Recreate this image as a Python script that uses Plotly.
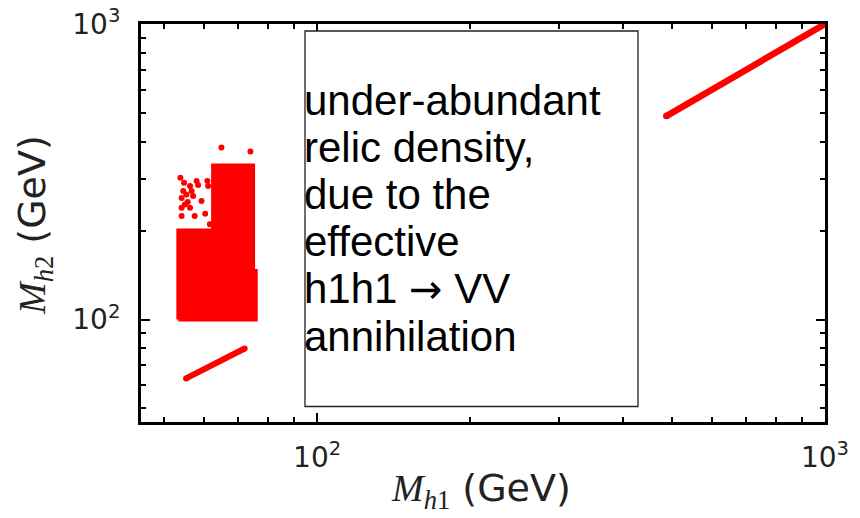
import math
import plotly.graph_objects as go

# ---------------- data ----------------
# dense scan region (outline of the filled block of points), GeV
block_mh1 = [53.3, 53.3, 62.4, 62.4, 74.8, 74.8, 75.7, 75.7, 53.3]
block_mh2 = [100, 200, 200, 332, 332, 146, 146, 100, 100]

# sparse points above the dense block
sparse_mh1 = [53.8, 54.7, 56.2, 57.9, 58.3, 60.8, 61.0, 54.5, 56.6, 59.2,
              54.1, 54.9, 56.2, 54.1, 57.4, 54.1, 61.5, 63.8, 64.8, 73.9,
              55.3, 57.0, 55.6, 60.2]
sparse_mh2 = [302, 290, 283, 294, 285, 294, 283, 272, 272, 252,
              258, 245, 239, 239, 224, 224, 210, 322, 382, 370,
              265, 262, 250, 228]

# low-mass diagonal branch
low_mh1 = [55.2, 72.0]
low_mh2 = [63.2, 79.8]

# high-mass diagonal branch (M_h2 ~ M_h1)
high_mh1 = [487, 1000]
high_mh2 = [488, 1000]

# axes
axis_range = [45, 1000]
major_vals = [100, 1000]
major_text = ["10<sup>2</sup>", "10<sup>3</sup>"]
minor_vals = [50, 60, 70, 80, 90, 200, 300, 400, 500, 600, 700, 800, 900]

box_lines = ["under-abundant", "relic density,", "due to the",
             "effective",
             "h1h1 <span style='font-family:DejaVu Sans;font-size:40px'>\u2192</span> VV",
             "annihilation"]

RED = "#ff0000"

# ---------------- layout geometry (pixels) ----------------
W, H = 860, 518
L, R, T, B = 141, 35, 24, 96
PW, PH = W - L - R, H - T - B


def px2x(px):
    return (px - L) / PW


def py2y(py):
    return (H - B - py) / PH


fig = go.Figure()

fig.add_trace(go.Scatter(
    x=block_mh1, y=block_mh2, mode="lines", fill="toself",
    fillcolor=RED, line=dict(color=RED, width=4), hoverinfo="skip",
    showlegend=False))

fig.add_trace(go.Scatter(
    x=sparse_mh1, y=sparse_mh2, mode="markers",
    marker=dict(color=RED, size=6, line=dict(width=0)), showlegend=False))

fig.add_trace(go.Scatter(
    x=low_mh1, y=low_mh2, mode="lines+markers",
    line=dict(color=RED, width=6),
    marker=dict(color=RED, size=6, line=dict(width=0)), showlegend=False))

fig.add_trace(go.Scatter(
    x=high_mh1, y=high_mh2, mode="lines+markers",
    line=dict(color=RED, width=6.5),
    marker=dict(color=RED, size=6.5, line=dict(width=0)), showlegend=False))

axis_common = dict(
    type="log", automargin=False,
    range=[math.log10(axis_range[0]), math.log10(axis_range[1])],
    showline=True, linewidth=3, linecolor="black", mirror="allticks",
    ticks="inside", ticklen=9, tickwidth=2, tickcolor="black",
    tickmode="array", tickvals=major_vals, ticktext=major_text,
    tickfont=dict(family="DejaVu Sans", size=28, color="#222222"),
    minor=dict(ticks="inside", ticklen=5, tickwidth=1.5, tickcolor="black",
               tickmode="array", tickvals=minor_vals, showgrid=False),
    showgrid=False, zeroline=False,
)

fig.update_layout(
    template="none",
    width=W, height=H,
    margin=dict(l=L, r=R, t=T, b=B, pad=0, autoexpand=False),
    paper_bgcolor="white", plot_bgcolor="white",
    xaxis=dict(axis_common, ticklabelstandoff=8),
    yaxis=dict(axis_common, ticklabelstandoff=12),
    showlegend=False,
)

# text box
fig.add_shape(type="rect", xref="paper", yref="paper",
              x0=px2x(305), x1=px2x(638), y0=py2y(406.5), y1=py2y(31),
              line=dict(color="#222222", width=1.3), fillcolor="white",
              layer="above")

baselines = [115, 162, 209, 256, 303, 351]
for line, bl in zip(box_lines, baselines):
    fig.add_annotation(
        xref="paper", yref="paper", x=px2x(301.5), y=py2y(bl - 14.6),
        xanchor="left", yanchor="middle", showarrow=False, text=line,
        font=dict(family="Liberation Sans", size=42, color="black"))

# axis titles
title_font = dict(family="DejaVu Sans", size=38, color="#222222")
fig.add_annotation(
    xref="paper", yref="paper", x=px2x(481), y=py2y(490),
    xanchor="center", yanchor="middle", showarrow=False,
    text=("<span style='font-family:Liberation Serif'><i>M</i>"
          "<sub><i>h</i>1</sub></span> (GeV)"),
    font=title_font)
fig.add_annotation(
    xref="paper", yref="paper", x=px2x(34), y=py2y(225),
    xanchor="center", yanchor="middle", showarrow=False, textangle=-90,
    text=("<span style='font-family:Liberation Serif'><i>M</i>"
          "<sub><i>h</i>2</sub></span> (GeV)"),
    font=title_font)

fig.write_html("out.html")
